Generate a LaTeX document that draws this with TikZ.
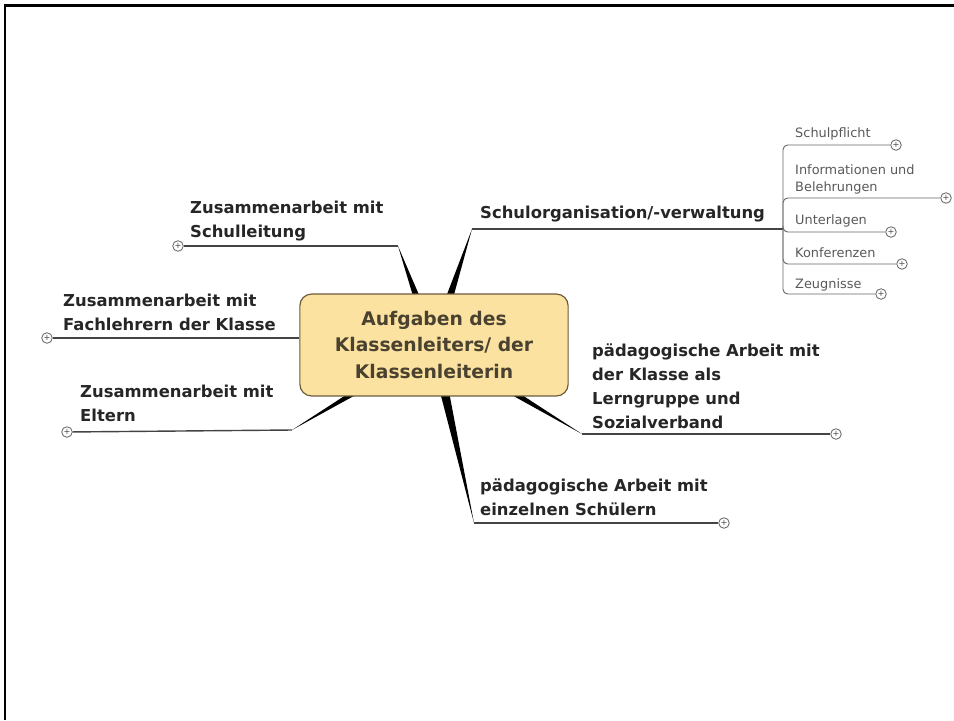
\documentclass[tikz,border=0pt]{standalone}
\usepackage{fontspec}
\setmainfont{DejaVu Sans}
\usetikzlibrary{positioning,calc}
\tikzset{>=stealth}
\definecolor{boxfill}{HTML}{FCE2A0}
\definecolor{boxline}{HTML}{6B5A3A}
\definecolor{boxtext}{HTML}{4A4230}
\definecolor{twigcol}{HTML}{444444}
\tikzset{
  topic/.style={anchor=north west,align=left,inner sep=0pt,text=black!85,
    font=\bfseries\fontsize{14}{20.4}\selectfont},
  subtopic/.style={anchor=north west,align=left,inner sep=0pt,text=black!65,
    font=\fontsize{11}{14.5}\selectfont},
  plus/.style={circle,draw=black!60,fill=white,line width=.7pt,inner sep=0pt,
    minimum size=9pt,text=black!70,font=\fontsize{7}{7}\selectfont},
  twig/.style={draw=twigcol,line width=1.2pt},
  subtwig/.style={draw=black!60,line width=.8pt,rounded corners=4pt},
}
\newcommand\limb[1]{\fill ($(ctr)!0.18cm!90:(#1)$) -- (#1) -- ($(ctr)!0.18cm!-90:(#1)$) -- cycle;}

\begin{document}
\begin{tikzpicture}[x=0.03cm,y=-0.03cm]
\useasboundingbox (0,0) rectangle (954,720);
\draw[line width=2.4pt] (5,720) -- (5,5.5) -- (954,5.5);
\coordinate (ctr) at (434,345);
\coordinate (k1) at (398,246);
\coordinate (k2) at (472,229);
\coordinate (k4) at (292,430);
\coordinate (k5) at (582,434);
\coordinate (k6) at (474,523);
\coordinate (jn) at (783,229);
\limb{k1} \limb{k2} \limb{k4} \limb{k5} \limb{k6}
\node[draw=boxline,fill=boxfill,line width=1pt,rounded corners=10pt,
  minimum width=229pt,minimum height=87pt,align=center,text=boxtext,
  font=\bfseries\fontsize{16}{23}\selectfont] (root) at (ctr)
  {Aufgaben des\\Klassenleiters/ der\\Klassenleiterin};
% main branches
\node[plus] (p1) at (178,246) {+};
\node[plus] (p3) at (47,338) {+};
\node[plus] (p4) at (67,432) {+};
\node[plus] (p5) at (836,434) {+};
\node[plus] (p6) at (724,523) {+};
\draw[twig] (p1) -- (k1);
\draw[twig] (p3) -- (p3 -| root.west);
\draw[twig] (p4) -- (k4);
\draw[twig] (k5) -- (p5);
\draw[twig] (k6) -- (p6);
\draw[twig] (k2) -- (jn);
\node[topic] (t1) at (190,201) {Zusammenarbeit mit\\Schulleitung};
\node[topic] (t2) at (480,206) {Schulorganisation/-verwaltung};
\node[topic] (t3) at (63,294) {Zusammenarbeit mit\\Fachlehrern der Klasse};
\node[topic] (t4) at (80,385) {Zusammenarbeit mit\\Eltern};
\node[topic] (t5) at (592,344) {pädagogische Arbeit mit\\der Klasse als\\Lerngruppe und\\Sozialverband};
\node[topic] (t6) at (480,479) {pädagogische Arbeit mit\\einzelnen Schülern};
% sub branches
\node[plus] (q1) at (896,145) {+};
\node[plus] (q2) at (946,198) {+};
\node[plus] (q3) at (891,232) {+};
\node[plus] (q4) at (902,264) {+};
\node[plus] (q5) at (881,294) {+};
\foreach \q in {q1,q2,q3,q4,q5}
  \draw[subtwig] (jn) |- (\q);
\node[subtopic] (s1) at (795,127) {Schulpflicht};
\node[subtopic] (s2) at (795,164) {Informationen und\\Belehrungen};
\node[subtopic] (s3) at (795,214) {Unterlagen};
\node[subtopic] (s4) at (795,247) {Konferenzen};
\node[subtopic] (s5) at (795,278) {Zeugnisse};
\end{tikzpicture}
\end{document}
